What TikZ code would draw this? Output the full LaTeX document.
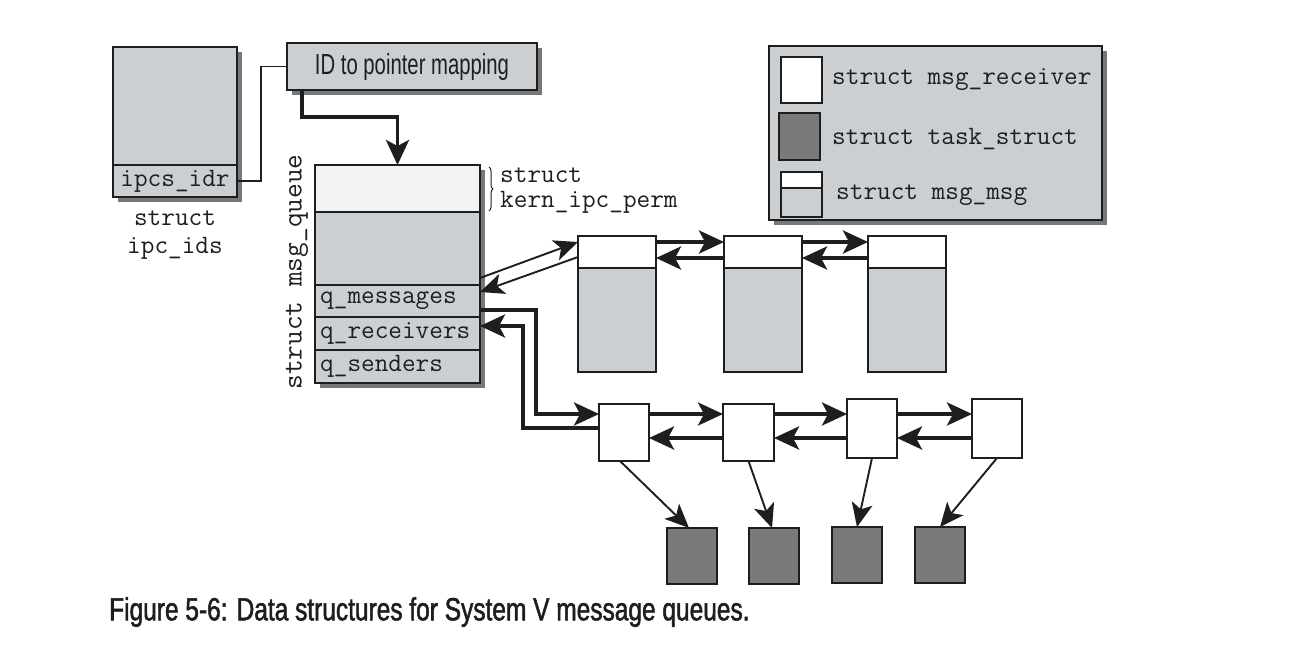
\documentclass[tikz,border=0pt]{standalone}
\usepackage{fontspec}
\newfontfamily\condsf[FakeStretch=0.70]{Liberation Sans}
\newfontfamily\capsf[FakeStretch=0.765,FakeBold=1.6]{Liberation Sans}
\usetikzlibrary{arrows.meta,decorations.pathreplacing,calc}
\definecolor{boxgray}{RGB}{204,207,210}
\definecolor{lightpart}{RGB}{242,243,245}
\definecolor{taskgray}{RGB}{122,122,122}
\definecolor{shadowgray}{RGB}{120,120,120}
\definecolor{ink}{RGB}{30,30,30}
\newcommand\dmono{\ttfamily\fontsize{26.5}{28}\selectfont}
\newcommand\dmonobig{\ttfamily\fontsize{28.5}{30}\selectfont}
\begin{document}
\begin{tikzpicture}[x=1pt,y=-1pt,
 cell/.style={draw=ink,line width=1.6pt,fill=boxgray,inner sep=0pt,outer sep=0pt,anchor=north west,font=\dmono,text=ink},
 shadowbox/.style={fill=shadowgray},
 lbl/.style={font=\dmono,text=ink,inner sep=0pt,anchor=west},
 thinline/.style={draw=ink,line width=1.8pt},
 thinarrow/.style={draw=ink,line width=1.9pt,-{Stealth[length=24pt,width=21pt,inset=6pt]}},
 bigarrow/.style={draw=ink,line width=3.6pt,-{Stealth[length=25pt,width=23pt,inset=6pt]}},
]
\path[fill=white] (0,0) rectangle (1289,646);
\useasboundingbox (0,0) rectangle (1289,646);
% shadows
\fill[shadowbox] (118,52) rectangle (242,202);
\fill[shadowbox] (292,48) rectangle (542,95);
\fill[shadowbox] (320,170) rectangle (485,388);
\fill[shadowbox] (774,51) rectangle (1107,225);

% struct ipc_ids
\node[cell,minimum width=124pt,minimum height=118pt] (ids) at (113,47) {};
\node[cell,minimum width=124pt,minimum height=32pt] (idr) at (113,165) {ipcs\_idr};
\node[lbl,anchor=center,align=center] (idslbl) at (175,235) {struct\\ipc\_ids};

% ID to pointer mapping
\node[cell,minimum width=250pt,minimum height=47pt,font=\condsf\fontsize{29}{30}\selectfont] (idmap) at (287,43) {ID to pointer mapping};

% struct msg_queue
\node[cell,fill=lightpart,minimum width=165pt,minimum height=47pt] (perm) at (315,165) {};
\node[cell,minimum width=165pt,minimum height=73pt] (mqbody) at (315,212) {};
\node[cell,minimum width=165pt,minimum height=32pt] (qmsg) at (315,285) {};
\node[cell,minimum width=165pt,minimum height=33pt] (qrecv) at (315,317) {};
\node[cell,minimum width=165pt,minimum height=33pt] (qsend) at (315,350) {};
\node[lbl] (qmsgl) at ([xshift=5pt]qmsg.west) {q\_messages};
\node[lbl] (qrecvl) at ([xshift=5pt]qrecv.west) {q\_receivers};
\node[lbl] (qsendl) at ([xshift=5pt]qsend.west) {q\_senders};
\node[lbl,anchor=center,rotate=90,font=\dmonobig] (mqlbl) at (297,272) {struct msg\_queue};
\draw[ink,line width=1pt,decorate,decoration={brace,amplitude=4pt}] (489,167) -- (489,211);
\node[lbl] (perml1) at (500,175) {struct};
\node[lbl] (perml2) at (500,202) {kern\_ipc\_perm};

% legend
\node[cell,minimum width=333pt,minimum height=174pt] (legend) at (769,46) {};
\node[cell,fill=white,minimum width=41pt,minimum height=46pt] (lgrecv) at (781,57) {};
\node[lbl] (lgrecvl) at (832,80) {struct msg\_receiver};
\node[cell,fill=taskgray,minimum width=41pt,minimum height=47pt] (lgtask) at (779,113) {};
\node[lbl] (lgtaskl) at (832,139) {struct task\_struct};
\node[cell,fill=white,minimum width=41pt,minimum height=16pt] (lgmh) at (781,172) {};
\node[cell,minimum width=41pt,minimum height=29pt] (lgmb) at (781,188) {};
\node[lbl] (lgmsgl) at (836,195) {struct msg\_msg};

% msg_msg list
\foreach \x/\n in {578/m1,724/m2,868/m3}{
  \node[cell,fill=white,minimum width=78pt,minimum height=32pt] (\n h) at (\x,236) {};
  \node[cell,minimum width=78pt,minimum height=104pt] (\n b) at (\x,268) {};
}
% receivers
\node[cell,fill=white,minimum width=50pt,minimum height=57pt] (r1) at (599,404) {};
\node[cell,fill=white,minimum width=51pt,minimum height=57pt] (r2) at (723,404) {};
\node[cell,fill=white,minimum width=50pt,minimum height=59pt] (r3) at (847,399) {};
\node[cell,fill=white,minimum width=50pt,minimum height=59pt] (r4) at (972,399) {};
% tasks
\node[cell,fill=taskgray,minimum width=50pt,minimum height=56pt] (t1) at (667,528) {};
\node[cell,fill=taskgray,minimum width=50pt,minimum height=56pt] (t2) at (749,528) {};
\node[cell,fill=taskgray,minimum width=50pt,minimum height=56pt] (t3) at (832,527) {};
\node[cell,fill=taskgray,minimum width=50pt,minimum height=56pt] (t4) at (915,527) {};

\coordinate (mfY) at (0,242);
\coordinate (mbY) at (0,258);
\coordinate (mrY) at (0,257);
\coordinate (rfY) at (0,414);
\coordinate (rbY) at (0,438);
\coordinate (rrY) at (0,428);

% connectors
\draw[thinline] (idr.east) -- ++(24,0) |- (idmap.west);
\draw[bigarrow] ([xshift=15pt]idmap.south west) -- ++(0,27) -| (perm.north);
\draw[thinarrow] ([yshift=7pt]qmsg.north east) -- (m1h.west |- mfY);
\draw[thinarrow] (m1h.west |- mrY) -- ([yshift=-7pt]qmsg.north east);
\draw[bigarrow] ([yshift=7pt]qmsg.south east) -- ++(56,0) |- (r1.west |- rfY);
\draw[bigarrow] (r1.west |- rrY) -- ++(-76,0) |- ([yshift=-9pt]qrecv.north east);

\draw[bigarrow] (m1h.east |- mfY) -- (m2h.west |- mfY);
\draw[bigarrow] (m2h.east |- mfY) -- (m3h.west |- mfY);
\draw[bigarrow] (m2h.west |- mbY) -- (m1h.east |- mbY);
\draw[bigarrow] (m3h.west |- mbY) -- (m2h.east |- mbY);

\draw[bigarrow] (r1.east |- rfY) -- (r2.west |- rfY);
\draw[bigarrow] (r2.east |- rfY) -- (r3.west |- rfY);
\draw[bigarrow] (r3.east |- rfY) -- (r4.west |- rfY);
\draw[bigarrow] (r2.west |- rbY) -- (r1.east |- rbY);
\draw[bigarrow] (r3.west |- rbY) -- (r2.east |- rbY);
\draw[bigarrow] (r4.west |- rbY) -- (r3.east |- rbY);

\draw[thinarrow] ([xshift=-4pt]r1.south) -- ([xshift=-3pt]t1.north);
\draw[thinarrow] (r2.south) -- ([xshift=-2pt]t2.north);
\draw[thinarrow] (r3.south) -- (t3.north);
\draw[thinarrow] (r4.south) -- (t4.north);

% caption
\node[font=\capsf\fontsize{32}{34}\selectfont,anchor=west,text=ink,inner sep=0pt] (cap) at (109,612) {Figure 5-6: Data structures for System V message queues.};
\end{tikzpicture}
\end{document}
